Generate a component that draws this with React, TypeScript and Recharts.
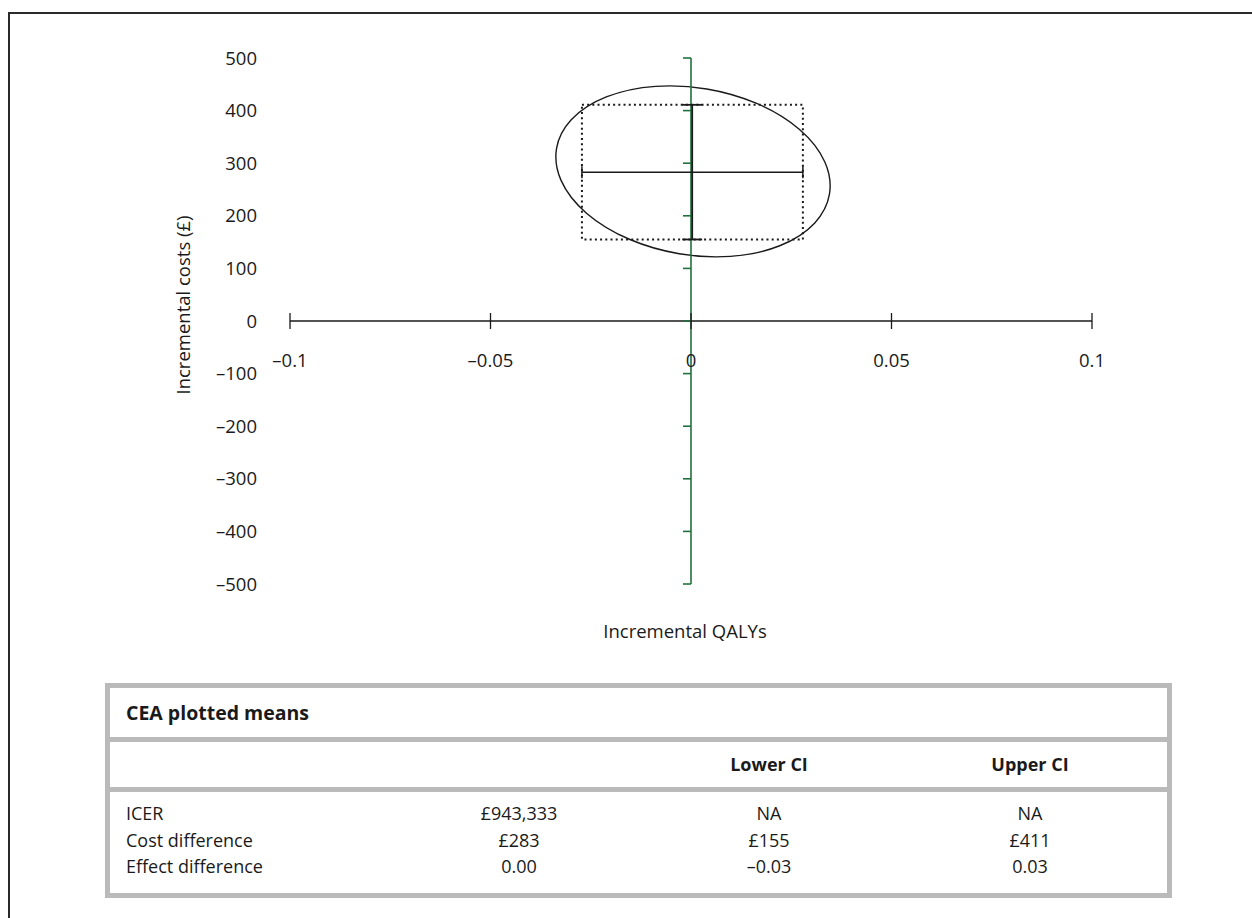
import React from 'react';
import {
  ComposedChart,
  Scatter,
  XAxis,
  YAxis,
  ReferenceLine,
  ReferenceArea,
  ErrorBar,
} from 'recharts';

const FONT = "'Open Sans', Lato, sans-serif";
const INK = '#1a1a1a';
const AXIS_GREEN = '#23703f';
const TABLE_GREY = '#bababa';
const AXIS_FONT_SIZE = 18.5;
const TABLE_FONT_SIZE = 18;
const TITLE_FONT_SIZE = 19.5;

// Axes
const costTicks = [500, 400, 300, 200, 100, 0, -100, -200, -300, -400, -500];
const qalyTicks = [-0.1, -0.05, 0, 0.05, 0.1];
const costDomain = [-500, 500];
const qalyDomain = [-0.1, 0.1];

// Point estimates and confidence intervals
const meanEffect = 0.0003;
const meanCost = 283;
const effectCI = [-0.0272, 0.0279];
const costCI = [155, 411];

// Confidence ellipse: its extent in each direction, and the cost at its max-QALY point
const ellipseQalyRange = [-0.0337, 0.0347];
const ellipseCostRange = [122, 447];
const ellipseCostAtMaxQaly = 257;

// Summary table text
const tableTitle = 'CEA plotted means';
const columnHeads = ['Lower CI', 'Upper CI'];
const rowLabels = ['ICER', 'Cost difference', 'Effect difference'];

const dash = (s: string) => s.replace(/-/g, '\u2013');
const pounds = (v: number) => '\u00a3' + Math.round(v).toLocaleString('en-GB');

const tableRows = [
  [rowLabels[0], pounds(meanCost / meanEffect), 'NA', 'NA'],
  [rowLabels[1], pounds(meanCost), pounds(costCI[0]), pounds(costCI[1])],
  [
    rowLabels[2],
    dash(meanEffect.toFixed(2)),
    dash(effectCI[0].toFixed(2)),
    dash(effectCI[1].toFixed(2)),
  ],
];

const meanPoint = [
  {
    x: meanEffect,
    y: meanCost,
    xErr: [meanEffect - effectCI[0], effectCI[1] - meanEffect],
    yErr: [meanCost - costCI[0], costCI[1] - meanCost],
  },
];
const xTickPoints = qalyTicks.map((v) => ({ x: v, y: 0 }));
const yTickPoints = costTicks.map((v) => ({ x: 0, y: v }));

// Rotated ellipse inscribed in the area's pixel box; tilt from the max-QALY point
const EllipseShape = (props: any) => {
  const { x, y, width, height } = props;
  const W = width / 2;
  const H = height / 2;
  const cx = x + W;
  const cy = y + H;
  const [lo, hi] = ellipseCostRange;
  const py = y + ((hi - ellipseCostAtMaxQaly) / (hi - lo)) * height;
  const sxx = W * W;
  const syy = H * H;
  const sxy = (py - cy) * W;
  const mid = (sxx + syy) / 2;
  const rad = Math.sqrt(((sxx - syy) / 2) ** 2 + sxy * sxy);
  const rx = Math.sqrt(mid + rad);
  const ry = Math.sqrt(Math.max(mid - rad, 0));
  const angle = (0.5 * Math.atan2(2 * sxy, sxx - syy) * 180) / Math.PI;
  return (
    <ellipse
      cx={cx}
      cy={cy}
      rx={rx}
      ry={ry}
      transform={`rotate(${angle} ${cx} ${cy})`}
      fill="none"
      stroke={INK}
      strokeWidth={1.4}
    />
  );
};

// Tick mark crossing the QALY axis, with its label below
const QalyTick = (props: any) => {
  const { cx, cy, payload } = props;
  return (
    <g>
      <line x1={cx} y1={cy - 8} x2={cx} y2={cy + 8} stroke={INK} strokeWidth={1.3} />
      <text
        x={cx}
        y={cy + 38}
        textAnchor="middle"
        dominantBaseline="central"
        fontFamily={FONT}
        fontSize={AXIS_FONT_SIZE}
        fill={INK}
      >
        {dash(String(payload.x))}
      </text>
    </g>
  );
};

// Short tick on the left of the cost axis
const CostTick = (props: any) => {
  const { cx, cy } = props;
  return <line x1={cx - 8} y1={cy} x2={cx} y2={cy} stroke={AXIS_GREEN} strokeWidth={1.6} />;
};

const NoMarker = () => <g />;

const CostAxisTitle = (props: any) => {
  const { viewBox } = props;
  const x = viewBox.x + 22;
  const y = viewBox.y + viewBox.height / 2 - 16;
  return (
    <text
      x={x}
      y={y}
      transform={`rotate(-90 ${x} ${y})`}
      textAnchor="middle"
      dominantBaseline="central"
      fontFamily={FONT}
      fontSize={AXIS_FONT_SIZE}
      fill={INK}
    >
      Incremental costs (£)
    </text>
  );
};

const QalyAxisTitle = (props: any) => {
  const { viewBox } = props;
  return (
    <text
      x={viewBox.x + viewBox.width / 2 - 6}
      y={viewBox.y + 46}
      textAnchor="middle"
      dominantBaseline="central"
      fontFamily={FONT}
      fontSize={AXIS_FONT_SIZE}
      fill={INK}
    >
      Incremental QALYs
    </text>
  );
};

const colCenters = [409, 659, 920];

const TableCell = ({
  text,
  col,
  bold,
  size,
}: {
  text: string;
  col: number;
  bold?: boolean;
  size?: number;
}) => {
  const style: React.CSSProperties =
    col === 0
      ? { position: 'absolute', left: 16, top: 0, whiteSpace: 'nowrap' }
      : {
          position: 'absolute',
          left: colCenters[col - 1],
          top: 0,
          transform: 'translateX(-50%)',
          whiteSpace: 'nowrap',
        };
  return (
    <span style={{ ...style, fontWeight: bold ? 700 : 400, fontSize: size ?? TABLE_FONT_SIZE }}>
      {text}
    </span>
  );
};

export default function App() {
  return (
    <div
      style={{
        position: 'absolute',
        left: 0,
        top: 0,
        width: 1252,
        height: 918,
        background: '#fff',
        fontFamily: FONT,
        color: INK,
        overflow: 'hidden',
      }}
    >
      <div
        style={{
          position: 'absolute',
          left: 8,
          top: 12,
          right: -4,
          bottom: -4,
          borderTop: '2px solid #2a2a2a',
          borderLeft: '2px solid #2a2a2a',
        }}
      />
      <div style={{ position: 'absolute', left: 0, top: 0 }}>
        <ComposedChart
          width={1252}
          height={660}
          margin={{ top: 58, right: 160, bottom: 16, left: 160 }}
        >
          <XAxis
            type="number"
            dataKey="x"
            domain={qalyDomain}
            axisLine={false}
            tickLine={false}
            tick={false}
            height={60}
            label={<QalyAxisTitle />}
          />
          <YAxis
            type="number"
            dataKey="y"
            domain={costDomain}
            ticks={costTicks}
            interval={0}
            axisLine={false}
            tickLine={false}
            tickSize={0}
            tickMargin={33}
            width={130}
            tickFormatter={(v: number) => dash(String(v))}
            tick={{ fontFamily: FONT, fontSize: AXIS_FONT_SIZE, fill: INK }}
            label={<CostAxisTitle />}
          />
          <ReferenceArea
            x1={effectCI[0]}
            x2={effectCI[1]}
            y1={costCI[0]}
            y2={costCI[1]}
            fill="none"
            stroke={INK}
            strokeWidth={2}
            strokeDasharray="2 3.2"
          />
          <ReferenceArea
            x1={ellipseQalyRange[0]}
            x2={ellipseQalyRange[1]}
            y1={ellipseCostRange[0]}
            y2={ellipseCostRange[1]}
            shape={<EllipseShape />}
          />
          <ReferenceLine x={0} stroke={AXIS_GREEN} strokeWidth={1.6} />
          <ReferenceLine y={0} stroke={INK} strokeWidth={1.4} />
          <Scatter data={yTickPoints} shape={<CostTick />} isAnimationActive={false} />
          <Scatter data={xTickPoints} shape={<QalyTick />} isAnimationActive={false} />
          <Scatter data={meanPoint} shape={<NoMarker />} isAnimationActive={false}>
            <ErrorBar
              dataKey="xErr"
              direction="x"
              width={6}
              stroke={INK}
              strokeWidth={1.5}
              isAnimationActive={false}
            />
            <ErrorBar
              dataKey="yErr"
              direction="y"
              width={10}
              stroke={INK}
              strokeWidth={1.8}
              isAnimationActive={false}
            />
          </Scatter>
        </ComposedChart>
      </div>

      {/* Summary table */}
      <div
        style={{
          position: 'absolute',
          left: 105,
          top: 683,
          width: 1067,
          height: 215,
          boxSizing: 'border-box',
          border: `5px solid ${TABLE_GREY}`,
          fontSize: TABLE_FONT_SIZE,
        }}
      >
        <div
          style={{
            position: 'relative',
            height: 54,
            lineHeight: '49px',
            borderBottom: `5px solid ${TABLE_GREY}`,
            boxSizing: 'border-box',
          }}
        >
          <TableCell text={tableTitle} col={0} bold size={TITLE_FONT_SIZE} />
        </div>
        <div
          style={{
            position: 'relative',
            height: 50,
            lineHeight: '45px',
            borderBottom: `5px solid ${TABLE_GREY}`,
            boxSizing: 'border-box',
          }}
        >
          <TableCell text={columnHeads[0]} col={2} bold />
          <TableCell text={columnHeads[1]} col={3} bold />
        </div>
        <div style={{ paddingTop: 8 }}>
          {tableRows.map((row, i) => (
            <div key={i} style={{ position: 'relative', height: 26.5, lineHeight: '26.5px' }}>
              {row.map((t, j) => (
                <TableCell key={j} text={t} col={j} />
              ))}
            </div>
          ))}
        </div>
      </div>
    </div>
  );
}
